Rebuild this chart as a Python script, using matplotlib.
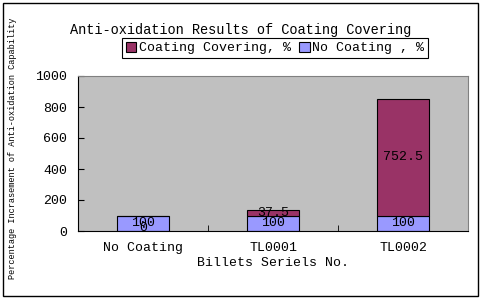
import matplotlib
matplotlib.use("Agg")
import matplotlib.pyplot as plt
from matplotlib.patches import Rectangle, Patch
import numpy as np

categories = ["No Coating", "TL0001", "TL0002"]
no_coating = [100, 100, 100]
coating_covering = [0, 37.5, 752.5]
yticks = [0, 200, 400, 600, 800, 1000]

FONT = "Liberation Mono"
plt.rcParams['font.family'] = [FONT, 'DejaVu Sans Mono']

fig = plt.figure(figsize=(4.87, 2.98), dpi=100)
ax = fig.add_axes([78/487, 1-231/298, 390/487, 155/298])
ax.set_facecolor("#C0C0C0")

x = np.arange(len(categories))
w = 0.4
ax.bar(x, no_coating, w, color="#9999FF", edgecolor="black", linewidth=0.8)
ax.bar(x, coating_covering, w, bottom=no_coating, color="#993366", edgecolor="black", linewidth=0.8)

for i in range(len(categories)):
    ax.text(x[i], no_coating[i]/2, f"{no_coating[i]:g}", ha="center", va="center", fontsize=9.5)
    if coating_covering[i] > 0:
        ax.text(x[i], no_coating[i] + coating_covering[i]/2, f"{coating_covering[i]:g}",
                ha="center", va="center", fontsize=9.5)
    else:
        ax.text(x[i], no_coating[i]*0.2, f"{coating_covering[i]:g}",
                ha="center", va="center", fontsize=9.5)

ax.set_xlim(-0.5, 2.5)
ax.set_ylim(0, 1000)
ax.set_yticks(yticks)
ax.set_yticklabels([str(t) for t in yticks], fontsize=9.5)
ax.tick_params(axis="y", direction="in", length=4, pad=8)
ax.set_xticks(x)
ax.set_xticklabels(categories, fontsize=9.5)
ax.tick_params(axis="x", length=0, pad=8)
ax.set_xticks([0.5, 1.5], minor=True)
ax.tick_params(axis="x", which="minor", direction="in", length=4)
for s in ["top", "right"]:
    ax.spines[s].set_color("#808080")
    ax.spines[s].set_linewidth(0.8)
for s in ["left", "bottom"]:
    ax.spines[s].set_color("black")
    ax.spines[s].set_linewidth(0.8)

ax.set_xlabel("Billets Seriels No.", fontsize=9.5, labelpad=2)
fig.text(13/487, 1-148/298, "Percentage Incrasement of Anti-oxidation Capability",
         rotation=90, ha="center", va="center", fontsize=6.2)

fig.text(241/487, 1-30/298, "Anti-oxidation Results of Coating Covering",
         ha="center", va="center", fontsize=9.8)

handles = [Patch(facecolor="#993366", edgecolor="black", linewidth=0.8),
           Patch(facecolor="#9999FF", edgecolor="black", linewidth=0.8)]
leg = fig.legend(handles, ["Coating Covering, %", "No Coating , %"], ncol=2,
                 loc="center", bbox_to_anchor=(275/487, 1-48/298), fontsize=9.5,
                 frameon=True, fancybox=False, edgecolor="black", framealpha=1,
                 handlelength=0.8, handleheight=0.8, handletextpad=0.2,
                 columnspacing=0.6, borderpad=0.3, borderaxespad=0)
leg.get_frame().set_linewidth(0.8)

fig.patches.append(Rectangle((3/487, 2/298), 475/487, 293/298, transform=fig.transFigure,
                             fill=False, edgecolor="black", linewidth=1))

fig.savefig("out.png", dpi=100)
